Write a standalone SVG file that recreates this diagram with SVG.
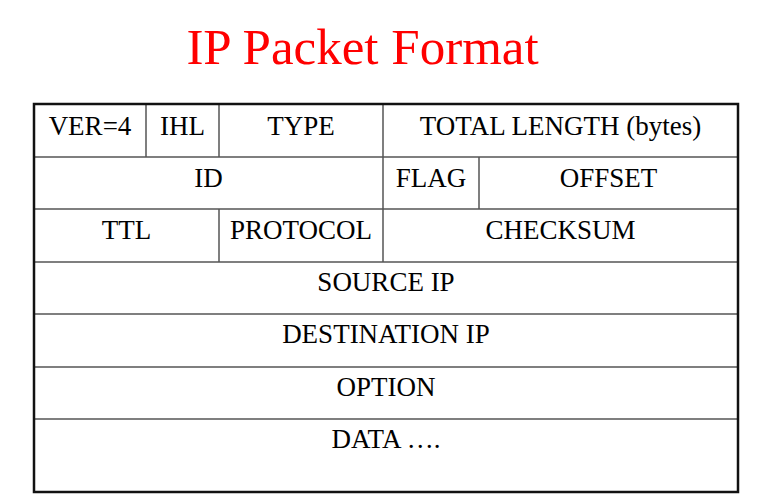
<svg xmlns="http://www.w3.org/2000/svg" width="777" height="501" viewBox="0 0 777 501">
<style>
text{font-family:"Liberation Serif","Times New Roman",serif;text-anchor:middle}
.t{font-size:27px;fill:#000}
.title{font-size:51px;fill:#ff0000}
.cell{fill:none;stroke:#555;stroke-width:1.5}
.outer{fill:none;stroke:#111;stroke-width:2.5}
</style>
<rect width="777" height="501" fill="#fff"/>
<text class="title" x="362.5" y="64">IP Packet Format</text>
<g id="connectors">
<path class="cell" d="M34 157H738M34 209H738M34 262H738M34 314H738M34 367H738M34 419H738"/>
<path class="cell" d="M146 104V157M219 104V157M383 104V157M383 157V209M479 157V209M219 209V262M383 209V262"/>
<rect class="outer" x="34" y="104" width="704" height="388"/>
</g>
<g id="ver"><text class="t" x="90" y="135">VER=4</text></g>
<g id="ihl"><text class="t" x="182.5" y="135">IHL</text></g>
<g id="type"><text class="t" x="301" y="135">TYPE</text></g>
<g id="total"><text class="t" x="560.5" y="135">TOTAL LENGTH (bytes)</text></g>
<g id="id"><text class="t" x="208.5" y="187">ID</text></g>
<g id="flag"><text class="t" x="431" y="187">FLAG</text></g>
<g id="offset"><text class="t" x="608.5" y="187">OFFSET</text></g>
<g id="ttl"><text class="t" x="126.5" y="239">TTL</text></g>
<g id="protocol"><text class="t" x="301" y="239">PROTOCOL</text></g>
<g id="checksum"><text class="t" x="560.5" y="239">CHECKSUM</text></g>
<g id="source"><text class="t" x="386" y="291">SOURCE IP</text></g>
<g id="dest"><text class="t" x="386" y="343">DESTINATION IP</text></g>
<g id="option"><text class="t" x="386" y="396">OPTION</text></g>
<g id="data"><text class="t" x="386" y="448">DATA ….</text></g>
</svg>
